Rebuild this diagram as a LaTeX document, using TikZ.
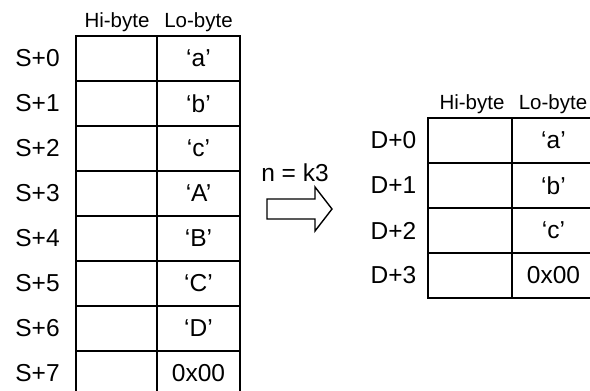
\documentclass[tikz,border=0pt]{standalone}
\usepackage{fontspec}
\setmainfont{Liberation Sans}
\begin{document}
\begin{tikzpicture}[x=1pt,y=-1pt,
  cellbox/.style={draw,line width=1.9pt,inner sep=0pt,outer sep=0pt,minimum height=45pt},
  hicell/.style={cellbox,minimum width=81pt},
  locell/.style={cellbox,minimum width=83pt,font=\fontsize{24.5}{28}\selectfont},
  addr/.style={font=\fontsize{24.5}{28}\selectfont,inner sep=0pt},
  head/.style={font=\fontsize{20.5}{24}\selectfont,inner sep=0pt}]
\useasboundingbox (0,0) rectangle (590,391);
\clip (0,0) rectangle (590,391);
% left table
\node[head] (lhh) at (117,22) {Hi-byte};
\node[head] (llh) at (198.5,22) {Lo-byte};
\foreach \i/\v in {0/‘a’,1/‘b’,2/‘c’,3/‘A’,4/‘B’,5/‘C’,6/‘D’,7/0x00}{
  \node[hicell] (sh\i) at (116.5,58.5+45*\i) {};
  \node[locell] (sl\i) at (198.5,58.5+45*\i) {\v};
  \node[addr] (sa\i) at (37.5,58.5+45*\i) {S+\i};
}
% right table
\node[head] (rhh) at (472,104) {Hi-byte};
\node[head] (rlh) at (553,104) {Lo-byte};
\foreach \i/\v in {0/‘a’,1/‘b’,2/‘c’,3/0x00}{
  \node[hicell,minimum width=84pt] (dh\i) at (470,140.5+45*\i) {};
  \node[locell] (dl\i) at (553.5,140.5+45*\i) {\v};
  \node[addr] (da\i) at (393.5,140.5+45*\i) {D+\i};
}
% arrow
\node[addr] (nk) at (295,173) {n = k3};
\draw[line width=1.4pt,line join=miter] (267,199) -- (315,199) -- (315,187) -- (332,209) -- (315,231) -- (315,219) -- (267,219) -- cycle;
\end{tikzpicture}
\end{document}
